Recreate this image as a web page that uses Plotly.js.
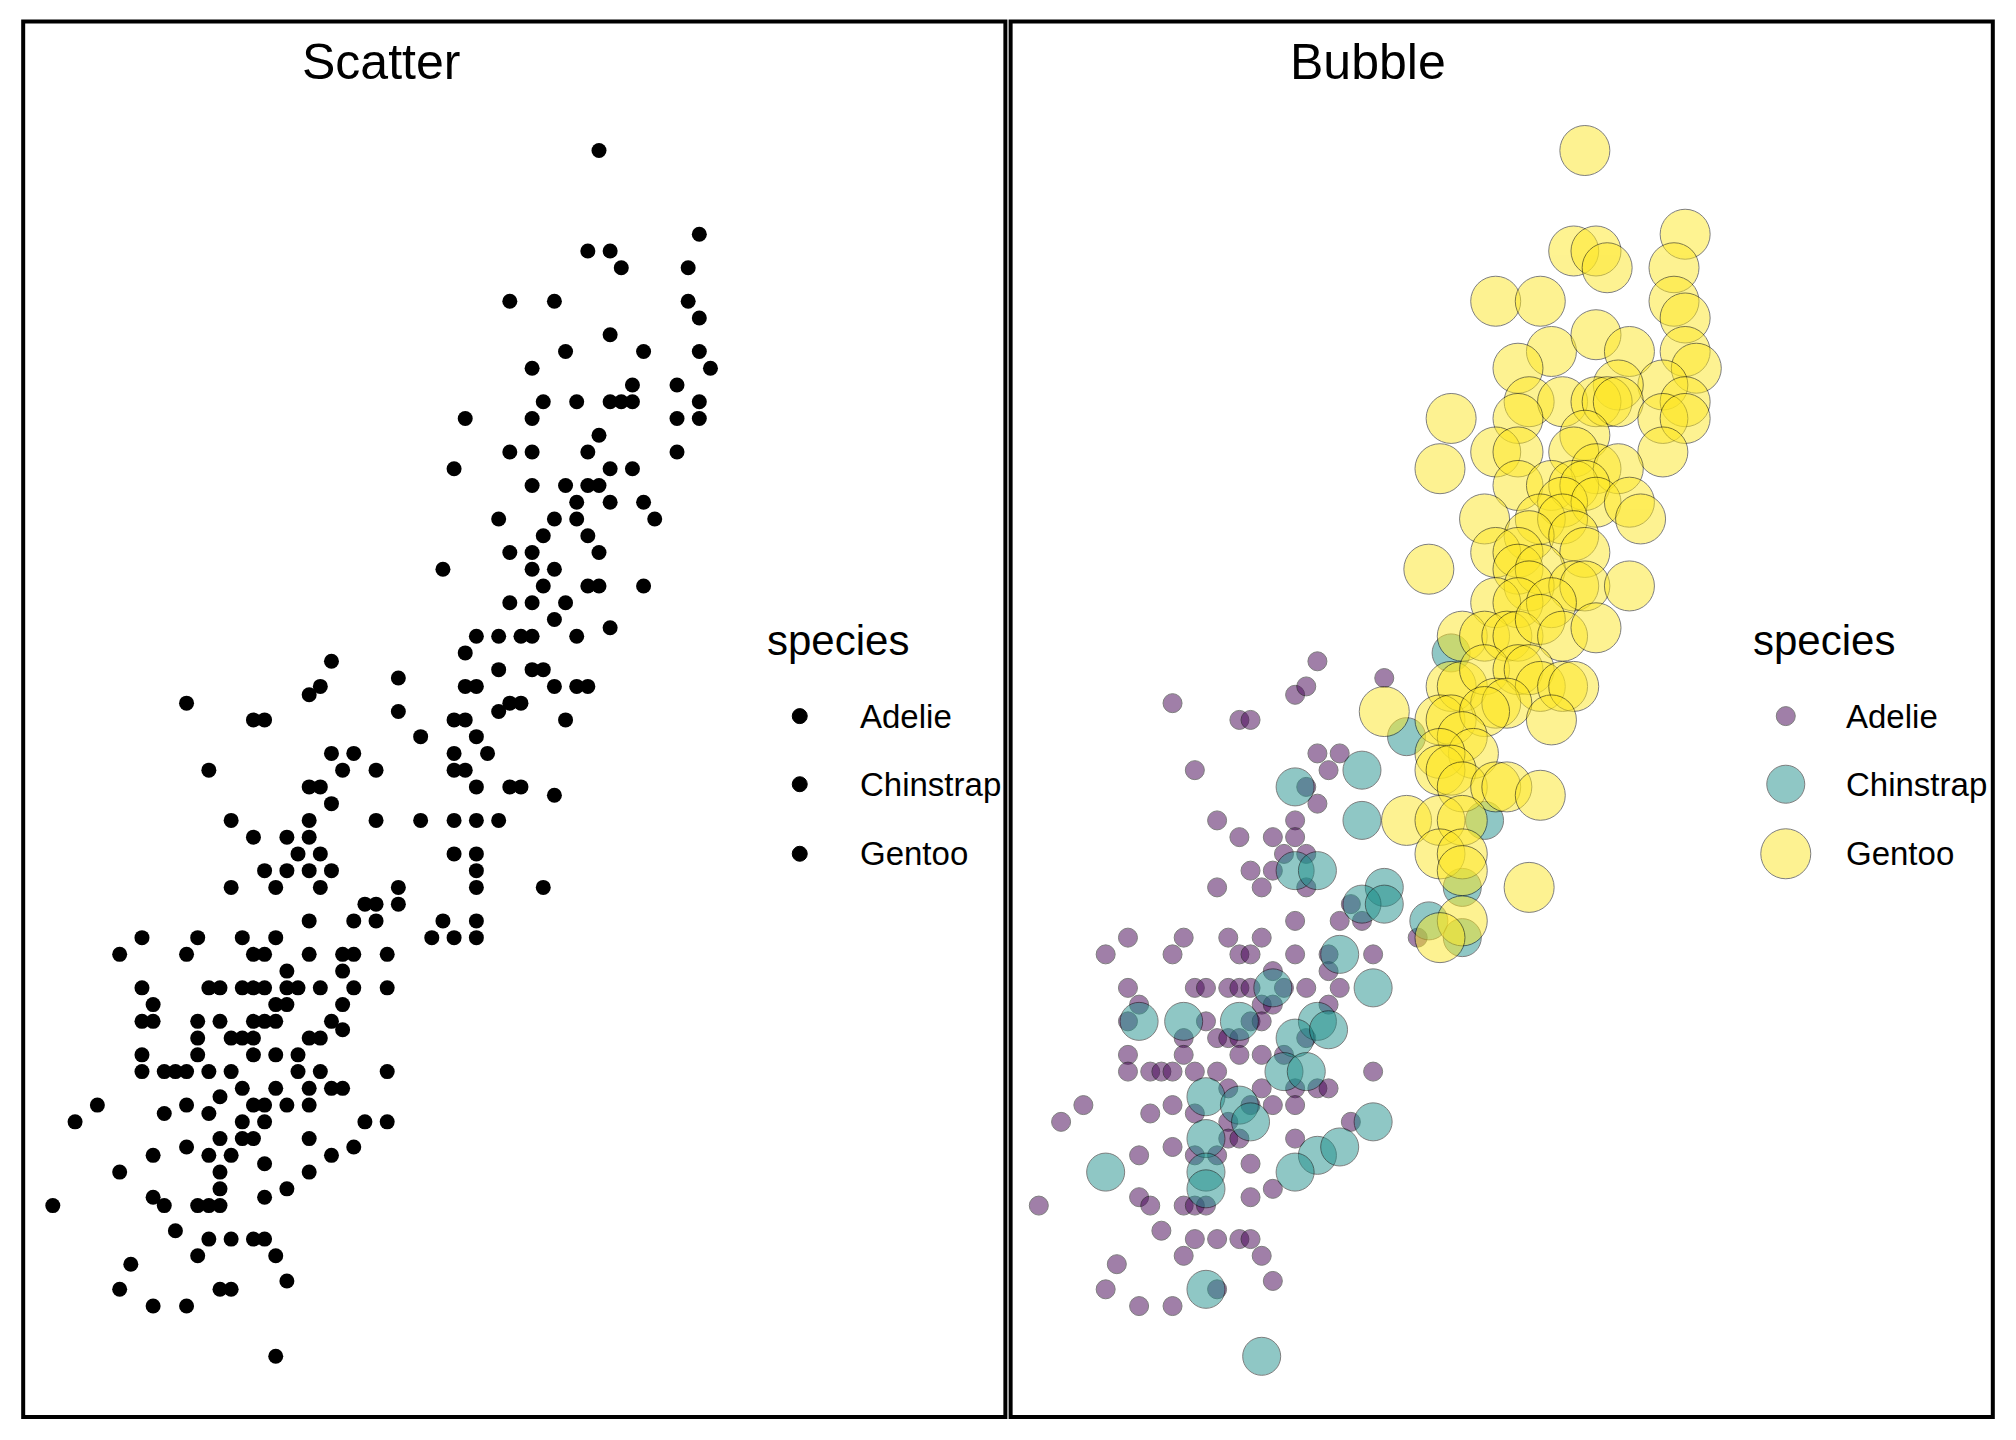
<!DOCTYPE html>
<html>
<head>
<meta charset="utf-8">
<script src="https://cdn.plot.ly/plotly-3.0.1.min.js"></script>
<style>body{margin:0;background:#fff}</style>
</head>
<body>
<div id="myDiv" style="width:2016px;height:1440px"></div>
<script>
// penguins: flipper length (mm) vs body mass (g)
var species = ['Adelie', 'Chinstrap', 'Gentoo'];

var gentooFlipper = [221,220,222,223,230,229,213,217,229,230,230,231,218,222,225,215,228,224,209,216,219,222,223,224,230,215,228,230,221,213,215,220,228,208,222,224,215,218,220,221,219,222,225,212,217,219,226,216,220,213,215,221,207,215,217,216,220,221,225,213,215,218,210,212,214,215,217,219,222,209,210,212,215,216,217,219,220,213,214,203,208,209,212,218,210,211,208,208,209,210,213,214,217,205,208,210,208,210,210,216,210,208];
var gentooMass = [6300,6000,6000,5950,6050,5950,5850,5850,5850,5800,5700,5650,5700,5750,5700,5650,5600,5600,5500,5550,5550,5550,5550,5550,5550,5500,5500,5500,5450,5400,5400,5400,5400,5350,5350,5350,5300,5300,5300,5300,5250,5250,5250,5200,5200,5200,5200,5150,5150,5100,5100,5100,5050,5050,5050,5000,5000,5000,5000,4950,4950,4950,4850,4850,4850,4850,4900,4850,4875,4700,4700,4750,4750,4750,4700,4700,4700,4650,4650,4625,4600,4600,4625,4600,4550,4500,4500,4450,4450,4400,4400,4400,4375,4300,4300,4300,4200,4200,4150,4100,4000,3950];

var chinstrapFlipper = [209,205,201,195,201,212,195,197,203,210,201,203,207,210,199,193,202,181,185,190,197,195,198,194,196,187,190,191,202,187,197,199,195,178,187,187,187,192];
var chinstrapMass = [4800,4550,4450,4400,4300,4300,4150,4150,4100,4100,4050,4050,4000,3950,3900,3800,3800,3700,3700,3700,3700,3650,3675,3550,3550,3475,3450,3400,3400,3350,3300,3325,3250,3250,3250,3200,2900,2700];

var adelieFlipper = [197,203,195,196,184,190,191,197,199,186,198,196,197,195,188,190,193,195,194,196,191,193,188,192,196,200,199,195,201,180,185,189,192,206,178,184,190,191,195,198,202,193,198,180,186,187,189,190,191,194,196,199,181,192,193,198,180,187,191,192,185,188,189,190,196,180,185,190,192,194,202,180,182,183,184,186,188,189,192,195,197,198,176,184,191,193,195,182,186,174,189,200,184,189,190,195,181,186,188,191,193,181,185,182,172,186,191,187,183,186,188,190,191,179,185,192,193,178,188,181,184];
var adelieMass = [4775,4725,4675,4700,4650,4600,4600,4500,4500,4450,4450,4400,4350,4300,4300,4250,4250,4250,4200,4200,4150,4150,4100,4100,4100,4050,4000,4000,4000,3950,3950,3950,3950,3950,3900,3900,3900,3900,3900,3900,3900,3850,3850,3800,3800,3800,3800,3800,3800,3800,3800,3800,3750,3750,3750,3750,3700,3700,3700,3700,3650,3650,3650,3650,3650,3600,3600,3600,3600,3600,3550,3550,3550,3550,3550,3550,3550,3500,3500,3500,3500,3500,3450,3450,3450,3450,3450,3425,3425,3400,3400,3400,3325,3350,3350,3350,3300,3300,3300,3275,3200,3175,3150,3150,3150,3150,3175,3150,3075,3050,3050,3050,3050,2975,3000,3000,2925,2900,2900,2850,2850];

var colors = ['#440154', '#21908C', '#FDE725'];
var bubbleSize = [19, 38, 50];
var flippers = [adelieFlipper, chinstrapFlipper, gentooFlipper];
var masses = [adelieMass, chinstrapMass, gentooMass];

var data = [];
for (var i = 0; i < 3; i++) {
  data.push({
    x: flippers[i], y: masses[i], type: 'scatter', mode: 'markers',
    xaxis: 'x', yaxis: 'y', showlegend: false, hoverinfo: 'skip',
    marker: {color: '#000', size: 15}
  });
}
for (var i = 0; i < 3; i++) {
  data.push({
    x: flippers[i], y: masses[i], type: 'scatter', mode: 'markers',
    xaxis: 'x2', yaxis: 'y2', showlegend: false, hoverinfo: 'skip',
    marker: {color: colors[i], size: bubbleSize[i], opacity: 0.5,
             line: {color: '#000', width: 1}}
  });
}

var ax = {showgrid: false, zeroline: false, showticklabels: false, ticks: '', showline: false};
var font = {family: 'Liberation Sans, Arial, sans-serif', color: '#000'};

var shapes = [
  {type: 'rect', xref: 'paper', yref: 'paper', x0: 0.0115, x1: 0.4987, y0: 0.016, y1: 0.985, line: {color: '#000', width: 4}},
  {type: 'rect', xref: 'paper', yref: 'paper', x0: 0.5013, x1: 0.9885, y0: 0.016, y1: 0.985, line: {color: '#000', width: 4}}
];
var annotations = [
  {text: 'Scatter', x: 0.189, y: 0.957, xref: 'paper', yref: 'paper', xanchor: 'center', yanchor: 'middle',
   showarrow: false, font: Object.assign({size: 50}, font)},
  {text: 'Bubble', x: 0.6786, y: 0.957, xref: 'paper', yref: 'paper', xanchor: 'center', yanchor: 'middle',
   showarrow: false, font: Object.assign({size: 50}, font)}
];
var legendX = [[0.3795, 0.3967, 0.4254], [0.8686, 0.8858, 0.9145]];
var rowY = [0.5027, 0.4554, 0.4071];
var legSym = [[15, 15, 15], [19, 38, 50]];
for (var p = 0; p < 2; p++) {
  annotations.push({text: 'species', x: legendX[p][0], y: 0.5554, xref: 'paper', yref: 'paper',
    xanchor: 'left', yanchor: 'middle', showarrow: false, font: Object.assign({size: 42}, font)});
  for (var k = 0; k < 3; k++) {
    annotations.push({text: species[k], x: legendX[p][2], y: rowY[k], xref: 'paper', yref: 'paper',
      xanchor: 'left', yanchor: 'middle', showarrow: false, font: Object.assign({size: 33}, font)});
    var r = legSym[p][k] / 2;
    shapes.push({type: 'circle', xref: 'paper', yref: 'paper', xsizemode: 'pixel', ysizemode: 'pixel',
      xanchor: legendX[p][1], yanchor: rowY[k], x0: -r, x1: r, y0: -r, y1: r,
      fillcolor: p == 0 ? '#000' : colors[k], opacity: p == 0 ? 1 : 0.5,
      line: {color: '#000', width: 1}});
  }
}

var layout = {
  width: 2016, height: 1440, margin: {l: 0, r: 0, t: 0, b: 0},
  paper_bgcolor: '#fff', plot_bgcolor: 'rgba(0,0,0,0)',
  xaxis: Object.assign({domain: [0.0096, 0.369], range: [169, 234]}, ax),
  yaxis: Object.assign({domain: [0.0116, 0.942], range: [2500, 6500]}, ax),
  xaxis2: Object.assign({domain: [0.4987, 0.858], range: [169, 234]}, ax),
  yaxis2: Object.assign({domain: [0.0116, 0.942], range: [2500, 6500], anchor: 'x2'}, ax),
  shapes: shapes, annotations: annotations
};
layout.xaxis2.anchor = 'y2';

Plotly.newPlot('myDiv', data, layout, {staticPlot: true});
</script>
</body>
</html>
